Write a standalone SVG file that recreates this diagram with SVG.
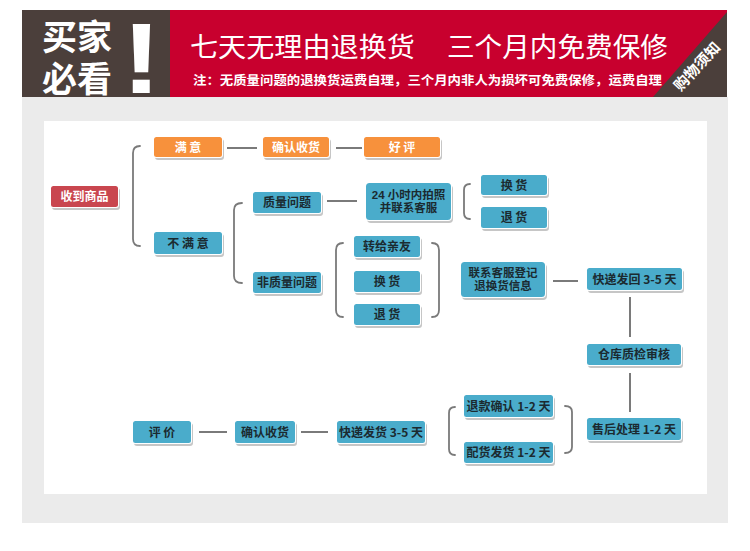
<svg xmlns="http://www.w3.org/2000/svg" width="750" height="551" viewBox="0 0 750 551">
<defs>
<style>
.sh{fill:#b8b8b8;opacity:0.8}
.bd{fill:#ffffff}
.red{fill:#c9464f}
.org{fill:#f7913c}
.blu{fill:#4aaccb}
.tw{font-family:"Noto Sans CJK SC","Liberation Sans",sans-serif;font-size:12px;font-weight:bold;fill:#ffffff;text-anchor:middle}
.tk{font-family:"Noto Sans CJK SC","Liberation Sans",sans-serif;font-size:12px;font-weight:bold;fill:#1b2a30;text-anchor:middle}
.t2{font-family:"Liberation Sans","Noto Sans CJK SC",sans-serif;font-size:11.5px}
.ln{stroke:#7a7a7a;stroke-width:2;fill:none}
.br{stroke:#7a7a7a;stroke-width:1.8;fill:none;stroke-linecap:round}
.hd{font-family:"Noto Sans CJK SC","Liberation Sans",sans-serif;fill:#ffffff}
.hb{font-family:"Liberation Sans","Noto Sans CJK SC",sans-serif;fill:#ffffff;font-size:35px;font-weight:bold}
</style>
</defs>
<rect x="0" y="0" width="750" height="551" fill="#ffffff"/>
<!-- header -->
<g id="header">
<rect x="22" y="10" width="148" height="87" fill="#4b3f3b"/>
<rect x="170" y="10" width="557" height="87" fill="#c8002e"/>
<polygon points="653,97 727,12 727,97" fill="#4b3f3b"/>
<text class="hb" x="42" y="50">买家</text>
<text class="hb" x="42" y="92">必看</text>
<text x="118" y="93" font-family="Liberation Sans,sans-serif" font-weight="bold" font-size="100" fill="#ffffff" text-anchor="middle" transform="scale(1.2,1)">!</text>
<text class="hd" x="190" y="57" font-size="27" textLength="225" lengthAdjust="spacingAndGlyphs">七天无理由退换货</text>
<text class="hd" x="447" y="57" font-size="27" textLength="221" lengthAdjust="spacingAndGlyphs">三个月内免费保修</text>
<text class="hd" x="193" y="85" font-size="12.5" font-weight="bold" textLength="469" lengthAdjust="spacingAndGlyphs">注：无质量问题的退换货运费自理，三个月内非人为损坏可免费保修，运费自理</text>
<text class="hd" x="0" y="0" font-size="15" font-weight="bold" text-anchor="middle" transform="translate(701,70) rotate(-47)">购物须知</text>
</g>
<!-- panel -->
<rect x="22" y="97" width="706" height="426" fill="#ebebeb"/>
<rect x="44" y="121" width="663" height="373" fill="#ffffff"/>
<!-- connectors -->
<g id="connectors">
<line class="ln" x1="227" y1="148" x2="257" y2="148"/>
<line class="ln" x1="336" y1="148" x2="362" y2="148"/>
<line class="ln" x1="327" y1="201" x2="357" y2="201"/>
<line class="ln" x1="553" y1="281" x2="578" y2="281"/>
<line class="ln" x1="630" y1="297" x2="630" y2="337"/>
<line class="ln" x1="630" y1="373" x2="630" y2="412"/>
<line class="ln" x1="199" y1="432" x2="227" y2="432"/>
<line class="ln" x1="301" y1="432" x2="328" y2="432"/>
<path class="br" d="M140,146 Q133,146 133,153 L133,239 Q133,246 140,246"/>
<path class="br" d="M242,203 Q234,203 234,210 L234,276 Q234,283 242,283"/>
<path class="br" d="M470,184 Q464,184 464,190 L464,213 Q464,219 470,219"/>
<path class="br" d="M343,243 Q336,243 336,250 L336,310 Q336,317 343,317"/>
<path class="br" d="M432,243 Q439,243 439,250 L439,310 Q439,317 432,317"/>
<path class="br" d="M455,407 Q449,407 449,413 L449,449 Q449,455 455,455"/>
<path class="br" d="M565,406 Q572,406 572,412 L572,447 Q572,453 565,453"/>
</g>
<!-- nodes -->
<g id="n_receive"><rect class="sh" x="52" y="188" width="68" height="22" rx="3"/><rect class="bd" x="50" y="185" width="69" height="23" rx="3"/><rect class="red" x="51" y="186" width="67" height="21" rx="2.5"/><text class="tw" x="84.5" y="201">收到商品</text></g>
<g id="n_satisfied"><rect class="sh" x="155" y="139" width="69" height="21" rx="3"/><rect class="bd" x="153" y="136" width="70" height="22" rx="3"/><rect class="org" x="154" y="137" width="68" height="20" rx="2.5"/><text class="tw" x="188" y="151.5">满 意</text></g>
<g id="n_confirm1"><rect class="sh" x="264" y="139" width="67" height="21" rx="3"/><rect class="bd" x="262" y="136" width="68" height="22" rx="3"/><rect class="org" x="263" y="137" width="66" height="20" rx="2.5"/><text class="tw" x="296" y="151.5">确认收货</text></g>
<g id="n_good"><rect class="sh" x="365" y="139" width="77" height="21" rx="3"/><rect class="bd" x="363" y="136" width="78" height="22" rx="3"/><rect class="org" x="364" y="137" width="76" height="20" rx="2.5"/><text class="tw" x="402" y="151.5">好 评</text></g>
<g id="n_unsat"><rect class="sh" x="155" y="234" width="69" height="23" rx="3"/><rect class="bd" x="153" y="231" width="70" height="24" rx="3"/><rect class="blu" x="154" y="232" width="68" height="22" rx="2.5"/><text class="tk" x="188" y="247.5">不 满 意</text></g>
<g id="n_quality"><rect class="sh" x="254" y="194" width="69" height="22" rx="3"/><rect class="bd" x="252" y="191" width="70" height="23" rx="3"/><rect class="blu" x="253" y="192" width="68" height="21" rx="2.5"/><text class="tk" x="287" y="207">质量问题</text></g>
<g id="n_nonquality"><rect class="sh" x="254" y="274" width="69" height="22" rx="3"/><rect class="bd" x="252" y="271" width="70" height="23" rx="3"/><rect class="blu" x="253" y="272" width="68" height="21" rx="2.5"/><text class="tk" x="287" y="287">非质量问题</text></g>
<g id="n_24h"><rect class="sh" x="367" y="185" width="86" height="38" rx="4"/><rect class="bd" x="365" y="182" width="87" height="39" rx="4"/><rect class="blu" x="366" y="183" width="85" height="37" rx="3.5"/><text class="tk t2" x="408.5" y="198.5">24 小时内拍照</text><text class="tk t2" x="408.5" y="212">并联系客服</text></g>
<g id="n_exchange1"><rect class="sh" x="482" y="177" width="67" height="21" rx="3"/><rect class="bd" x="480" y="174" width="68" height="22" rx="3"/><rect class="blu" x="481" y="175" width="66" height="20" rx="2.5"/><text class="tk" x="514" y="189.5">换 货</text></g>
<g id="n_return1"><rect class="sh" x="482" y="209" width="67" height="22" rx="3"/><rect class="bd" x="480" y="206" width="68" height="23" rx="3"/><rect class="blu" x="481" y="207" width="66" height="21" rx="2.5"/><text class="tk" x="514" y="222">退 货</text></g>
<g id="n_transfer"><rect class="sh" x="355" y="238" width="67" height="22" rx="3"/><rect class="bd" x="353" y="235" width="68" height="23" rx="3"/><rect class="blu" x="354" y="236" width="66" height="21" rx="2.5"/><text class="tk" x="387" y="251">转给亲友</text></g>
<g id="n_exchange2"><rect class="sh" x="355" y="273" width="67" height="22" rx="3"/><rect class="bd" x="353" y="270" width="68" height="23" rx="3"/><rect class="blu" x="354" y="271" width="66" height="21" rx="2.5"/><text class="tk" x="387" y="286">换 货</text></g>
<g id="n_return2"><rect class="sh" x="355" y="306" width="67" height="22" rx="3"/><rect class="bd" x="353" y="303" width="68" height="23" rx="3"/><rect class="blu" x="354" y="304" width="66" height="21" rx="2.5"/><text class="tk" x="387" y="319">退 货</text></g>
<g id="n_contact"><rect class="sh" x="462" y="264" width="85" height="36" rx="4"/><rect class="bd" x="460" y="261" width="86" height="37" rx="4"/><rect class="blu" x="461" y="262" width="84" height="35" rx="3.5"/><text class="tk t2" x="503" y="276.5">联系客服登记</text><text class="tk t2" x="503" y="290">退换货信息</text></g>
<g id="n_shipback"><rect class="sh" x="588" y="270" width="96" height="23" rx="3"/><rect class="bd" x="586" y="267" width="97" height="24" rx="3"/><rect class="blu" x="587" y="268" width="95" height="22" rx="2.5"/><text class="tk" x="634.5" y="283.5">快递发回 3-5 天</text></g>
<g id="n_inspect"><rect class="sh" x="588" y="346" width="95" height="22" rx="3"/><rect class="bd" x="586" y="343" width="96" height="23" rx="3"/><rect class="blu" x="587" y="344" width="94" height="21" rx="2.5"/><text class="tk" x="634" y="359">仓库质检审核</text></g>
<g id="n_aftersale"><rect class="sh" x="588" y="420" width="95" height="23" rx="3"/><rect class="bd" x="586" y="417" width="96" height="24" rx="3"/><rect class="blu" x="587" y="418" width="94" height="22" rx="2.5"/><text class="tk" x="634" y="433.5">售后处理 1-2 天</text></g>
<g id="n_refund"><rect class="sh" x="465" y="397" width="90" height="23" rx="3"/><rect class="bd" x="463" y="394" width="91" height="24" rx="3"/><rect class="blu" x="464" y="395" width="89" height="22" rx="2.5"/><text class="tk" x="508.5" y="410.5">退款确认 1-2 天</text></g>
<g id="n_reship"><rect class="sh" x="465" y="444" width="90" height="22" rx="3"/><rect class="bd" x="463" y="441" width="91" height="23" rx="3"/><rect class="blu" x="464" y="442" width="89" height="21" rx="2.5"/><text class="tk" x="508.5" y="457">配货发货 1-2 天</text></g>
<g id="n_ship"><rect class="sh" x="338" y="423" width="89" height="23" rx="3"/><rect class="bd" x="336" y="420" width="90" height="24" rx="3"/><rect class="blu" x="337" y="421" width="88" height="22" rx="2.5"/><text class="tk" x="381" y="436.5">快递发货 3-5 天</text></g>
<g id="n_confirm2"><rect class="sh" x="236" y="423" width="61" height="23" rx="3"/><rect class="bd" x="234" y="420" width="62" height="24" rx="3"/><rect class="blu" x="235" y="421" width="60" height="22" rx="2.5"/><text class="tk" x="265" y="436.5">确认收货</text></g>
<g id="n_review"><rect class="sh" x="134" y="423" width="59" height="23" rx="3"/><rect class="bd" x="132" y="420" width="60" height="24" rx="3"/><rect class="blu" x="133" y="421" width="58" height="22" rx="2.5"/><text class="tk" x="162" y="436.5">评 价</text></g>
</svg>
